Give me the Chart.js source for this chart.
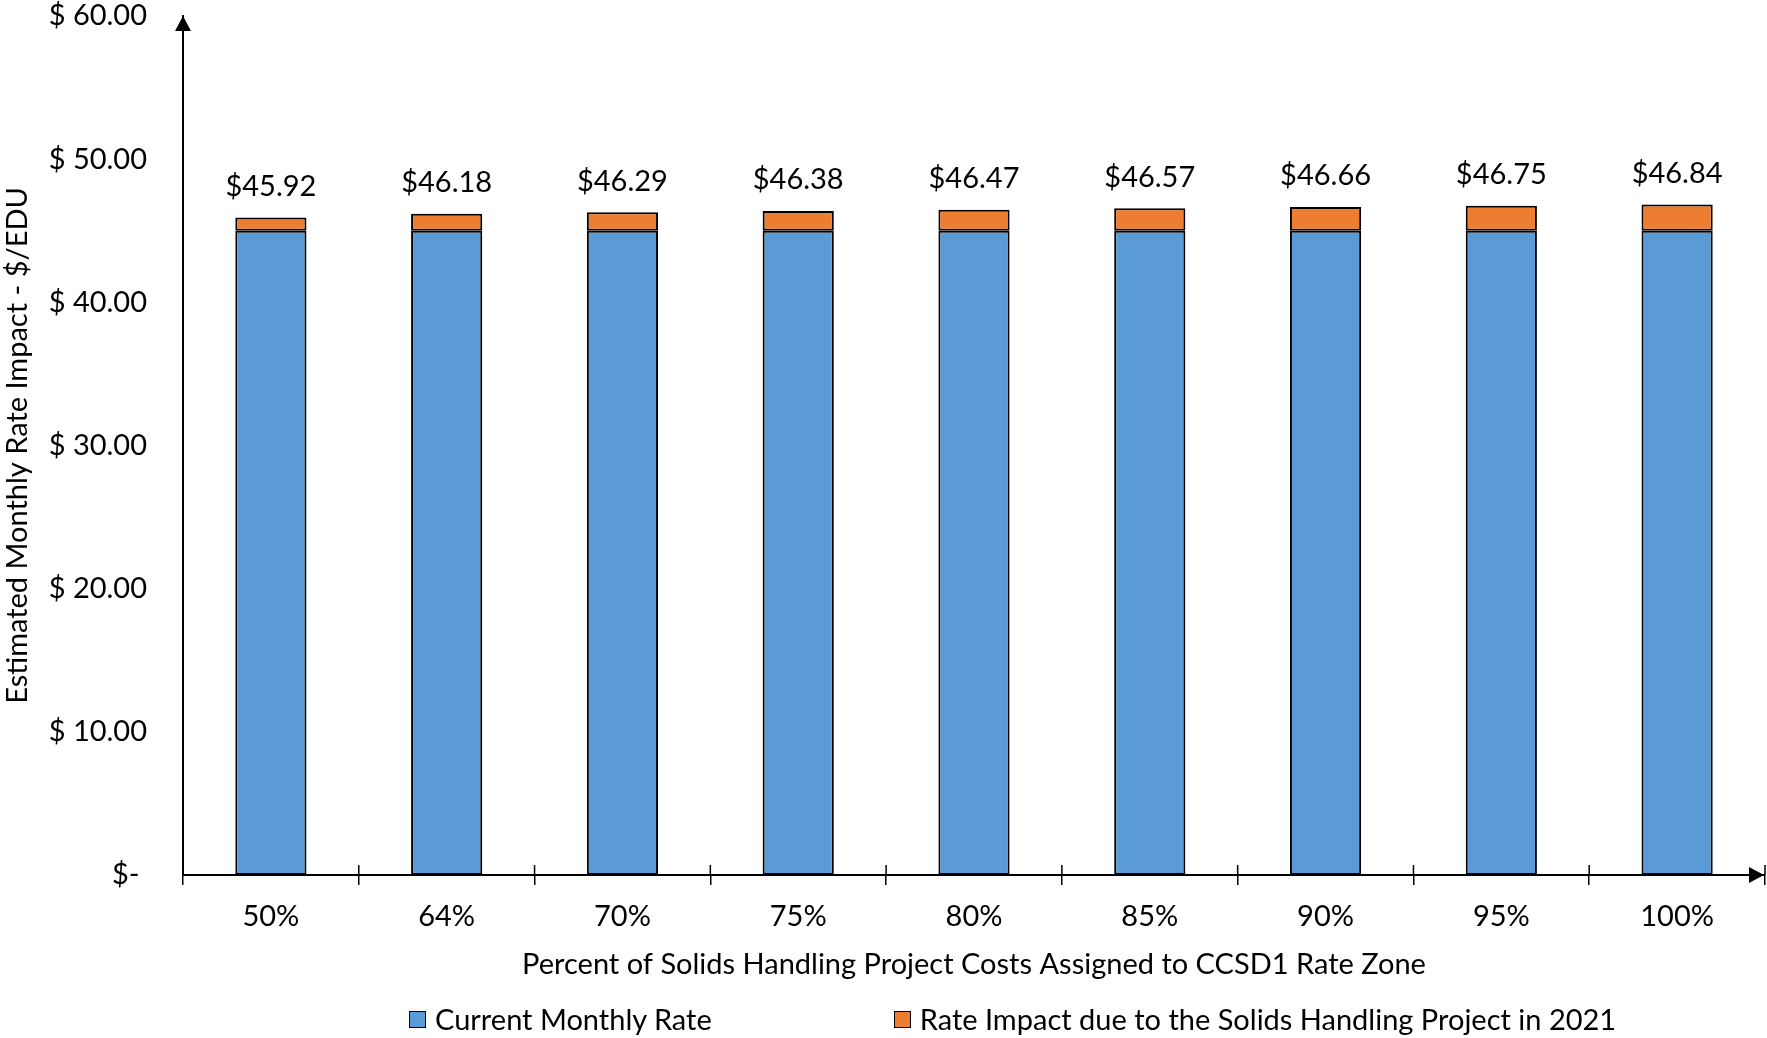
<!DOCTYPE html>
<html>
<head>
<meta charset="utf-8">
<title>Estimated Monthly Rate Impact</title>
<script src="https://cdn.jsdelivr.net/npm/chart.js@4/dist/chart.umd.min.js"></script>
<style>
    body { margin: 0; background: #fff; }
    #wrap { position: relative; width: 1767px; height: 1038px; }
    #legend {
        position: absolute; left: 409px; top: 1003px;
        font-family: Lato, sans-serif; font-size: 29px; line-height: 32px; color: #000;
        display: flex; white-space: nowrap;
    }
    #legend .item { display: flex; align-items: center; margin-right: 182px; }
    #legend .box { width: 15px; height: 15px; border: 1px solid #000; margin-right: 9px; }
</style>
</head>
<body>
<div id="wrap">
    <canvas id="rateChart" width="1767" height="1038"></canvas>
    <div id="legend"></div>
</div>
<script>
// data
var categories = ["50%", "64%", "70%", "75%", "80%", "85%", "90%", "95%", "100%"];
var currentRate = [45, 45, 45, 45, 45, 45, 45, 45, 45];
var rateImpact = [0.92, 1.18, 1.29, 1.38, 1.47, 1.57, 1.66, 1.75, 1.84];
var yTicks = [0, 10, 20, 30, 40, 50, 60];

var seriesNames = ["Current Monthly Rate", "Rate Impact due to the Solids Handling Project in 2021"];
var seriesColors = ["#5B9BD5", "#ED7D31"];

var FONT = "Lato, sans-serif";
var FSIZE = 29;
Chart.defaults.font.family = FONT;
Chart.defaults.color = "#000";

// totals above bars + crossing ticks and arrows on the axes
var decor = {
    id: "decor",
    afterDatasetsDraw: function (chart) {
        var ctx = chart.ctx;
        var top = chart.getDatasetMeta(chart.data.datasets.length - 1);
        ctx.save();
        ctx.font = FSIZE + "px " + FONT;
        ctx.fillStyle = "#000";
        ctx.textAlign = "center";
        ctx.textBaseline = "middle";
        top.data.forEach(function (bar, i) {
            var total = currentRate[i] + rateImpact[i];
            ctx.fillText("$" + total.toFixed(2), bar.x, bar.y - 31);
        });
        ctx.restore();
    },
    afterDraw: function (chart) {
        var ctx = chart.ctx;
        var xs = chart.scales.x, ys = chart.scales.y;
        var base = ys.getPixelForValue(0);
        var n = categories.length;
        ctx.save();
        ctx.strokeStyle = "#000";
        ctx.fillStyle = "#000";
        ctx.lineWidth = 1.5;
        for (var i = 1; i <= n; i++) {
            var x = xs.left + i * (xs.right - xs.left) / n;
            ctx.beginPath();
            ctx.moveTo(x, base - 10);
            ctx.lineTo(x, base);
            ctx.stroke();
        }
        // y arrow
        var ax = xs.left, ay = ys.top;
        ctx.beginPath();
        ctx.moveTo(ax, ay);
        ctx.lineTo(ax - 8, ay + 15);
        ctx.lineTo(ax + 8, ay + 15);
        ctx.closePath();
        ctx.fill();
        // x arrow
        var bx = xs.right - 1;
        ctx.beginPath();
        ctx.moveTo(bx, base);
        ctx.lineTo(bx - 15, base - 8);
        ctx.lineTo(bx - 15, base + 8);
        ctx.closePath();
        ctx.fill();
        ctx.restore();
    }
};

var ctx1 = document.getElementById("rateChart").getContext("2d");
var rateChart = new Chart(ctx1, {
    type: "bar",
    data: {
        labels: categories,
        datasets: [{
                label: seriesNames[0],
                data: currentRate,
                backgroundColor: seriesColors[0],
                borderColor: "#000",
                borderWidth: 2,
                borderSkipped: false
            },
            {
                label: seriesNames[1],
                data: rateImpact,
                backgroundColor: seriesColors[1],
                borderColor: "#000",
                borderWidth: 2,
                borderSkipped: false
            }
        ]
    },
    options: {
        responsive: false,
        animation: false,
        barPercentage: 0.405,
        categoryPercentage: 1,
        layout: { padding: { top: 0, right: 2, bottom: 50, left: 0 } },
        plugins: {
            legend: { display: false },
            tooltip: { enabled: false }
        },
        scales: {
            x: {
                stacked: true,
                offset: true,
                grid: {
                    display: true,
                    drawOnChartArea: false,
                    drawTicks: true,
                    tickLength: 10,
                    color: "#000",
                    lineWidth: 1.5,
                    offset: true
                },
                border: { display: true, color: "#000", width: 2 },
                ticks: { font: { size: FSIZE }, padding: 14, color: "#000", maxRotation: 0 },
                title: {
                    display: true,
                    text: "Percent of Solids Handling Project Costs Assigned to CCSD1 Rate Zone",
                    font: { size: FSIZE },
                    color: "#000",
                    padding: { top: 4, bottom: 6 }
                },
                afterFit: function (scale) { scale.height = 113; }
            },
            y: {
                stacked: true,
                min: yTicks[0],
                max: yTicks[yTicks.length - 1],
                grid: { display: false, drawTicks: false },
                border: { display: true, color: "#000", width: 2 },
                afterBuildTicks: function (scale) {
                    scale.ticks = yTicks.map(function (v) { return { value: v }; });
                },
                ticks: {
                    font: { size: FSIZE },
                    padding: 36,
                    color: "#000",
                    callback: function (v) {
                        return v === 0 ? "$- " : "$ " + v.toFixed(2);
                    }
                },
                title: {
                    display: true,
                    text: "Estimated Monthly Rate Impact - $/EDU",
                    font: { size: FSIZE },
                    color: "#000",
                    padding: { top: 0, bottom: 0 }
                },
                afterFit: function (scale) {
                    scale.width = 183;
                    scale.paddingTop = 16;
                    scale.paddingBottom = 16;
                }
            }
        }
    },
    plugins: [decor]
});

// legend
var legendHtml = "";
for (let i = 0; i < seriesNames.length; i++) {
    legendHtml += '<div class="item"><span class="box" style="background:' + seriesColors[i] + '"></span>' + seriesNames[i] + '</div>';
}
document.getElementById("legend").innerHTML = legendHtml;
</script>
</body>
</html>
